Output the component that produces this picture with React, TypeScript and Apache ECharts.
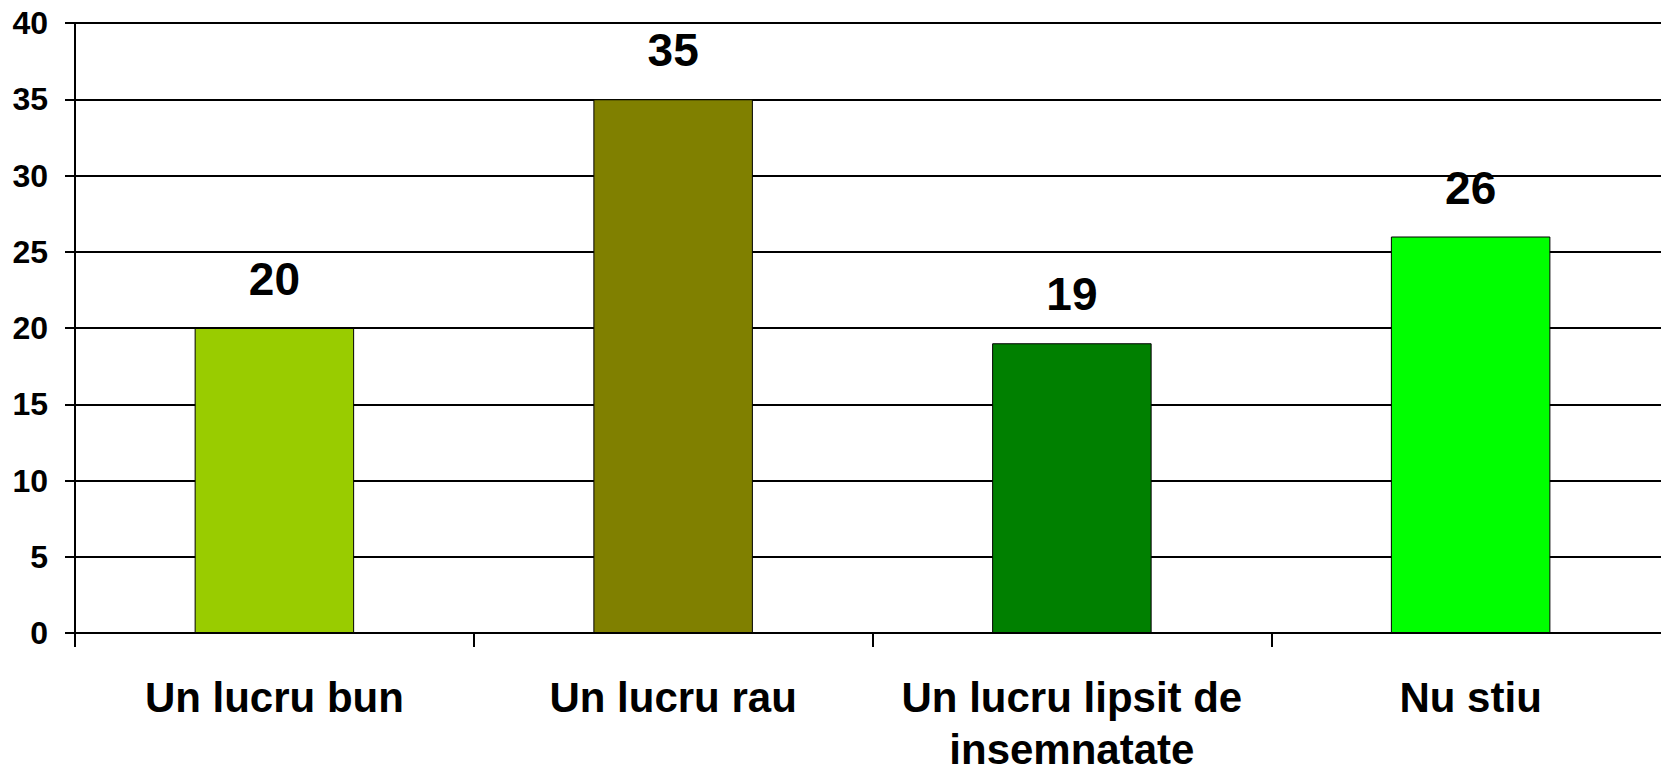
import React, { useEffect, useRef } from "react";
import * as echarts from "echarts";

const categories = ["Un lucru bun", "Un lucru rau", "Un lucru lipsit de\ninsemnatate", "Nu stiu"];
const values = [20, 35, 19, 26];
const barColors = ["#99CC00", "#808000", "#008000", "#00FF00"];
const yTicks = { min: 0, max: 40, interval: 5 };

const FONT = "'Liberation Sans', Arial, sans-serif";

export default function App() {
  const ref = useRef<HTMLDivElement>(null);
  useEffect(() => {
    if (!ref.current) return;
    const chart = echarts.init(ref.current, undefined, { renderer: "svg" });
    chart.setOption({
      animation: false,
      backgroundColor: "#ffffff",
      grid: {
        left: 75,
        top: 23,
        width: 1595,
        height: 610,
        containLabel: false,
        outerBoundsMode: "none",
      },
      xAxis: {
        type: "category",
        data: categories,
        boundaryGap: true,
        axisLine: { lineStyle: { color: "#000", width: 2 } },
        axisTick: { show: true, length: 14, lineStyle: { color: "#000", width: 2 } },
        axisLabel: {
          margin: 38,
          fontSize: 42,
          lineHeight: 52,
          fontWeight: "bold",
          fontFamily: FONT,
          color: "#000",
          interval: 0,
        },
      },
      yAxis: {
        type: "value",
        min: yTicks.min,
        max: yTicks.max,
        interval: yTicks.interval,
        axisLine: { show: true, lineStyle: { color: "#000", width: 2 } },
        axisTick: { show: true, length: 10, lineStyle: { color: "#000", width: 2 } },
        axisLabel: {
          margin: 27,
          fontSize: 32,
          fontWeight: "bold",
          fontFamily: FONT,
          color: "#000",
        },
        splitLine: { show: true, lineStyle: { color: "#000", width: 2 } },
      },
      series: [
        {
          type: "bar",
          barWidth: "40%",
          data: values.map((v, i) => ({
            value: v,
            itemStyle: { color: barColors[i], borderColor: "#000", borderWidth: 1 },
          })),
          label: {
            show: true,
            position: "top",
            distance: 26,
            fontSize: 46,
            fontWeight: "bold",
            fontFamily: FONT,
            color: "#000",
          },
        },
      ],
    });
    return () => chart.dispose();
  }, []);
  return (
    <div
      ref={ref}
      style={{ position: "fixed", left: 0, top: 0, width: 1661, height: 769, background: "#fff" }}
    />
  );
}
